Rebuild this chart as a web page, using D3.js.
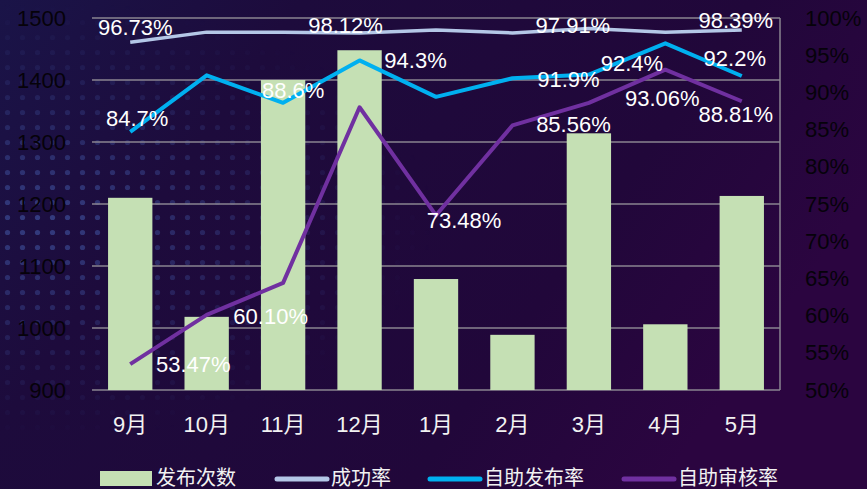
<!DOCTYPE html>
<html>
<head>
<meta charset="utf-8">
<script src="https://cdnjs.cloudflare.com/ajax/libs/d3/7.8.5/d3.min.js"></script>
<style>
  body { margin: 0; background: #1c0a3a; }
  svg text { font-family: "Liberation Sans", "Noto Sans CJK SC", sans-serif; }
</style>
</head>
<body>
<div id="chart"></div>
<script>
var months = ["9月", "10月", "11月", "12月", "1月", "2月", "3月", "4月", "5月"];
var releaseCount = [1210, 1018, 1400, 1448, 1079, 989, 1314, 1006, 1213];
var successRate = [96.73, 98.1, 98.1, 98.0, 98.4, 98.0, 98.6, 98.1, 98.39];
var selfReleaseRate = [84.7, 92.3, 88.6, 94.3, 89.4, 91.9, 92.4, 96.6, 92.2];
var selfAuditRate = [53.47, 60.10, 64.4, 88.0, 73.48, 85.56, 88.6, 93.06, 88.81];
var leftTicks = [900, 1000, 1100, 1200, 1300, 1400, 1500];
var rightTicks = [50, 55, 60, 65, 70, 75, 80, 85, 90, 95, 100];
var seriesNames = ["发布次数", "成功率", "自助发布率", "自助审核率"];
// data label texts, one per month (null = no label)
var successLabels = ["96.73%", null, null, "98.12%", null, null, "97.91%", null, "98.39%"];
var selfReleaseLabels = ["84.7%", null, "88.6%", "94.3%", null, "91.9%", "92.4%", null, "92.2%"];
var selfAuditLabels = ["53.47%", "60.10%", null, null, "73.48%", "85.56%", null, "93.06%", "88.81%"];

var W = 867, H = 489;
var plot = {left: 92, right: 780, top: 18, bottom: 390};

var svg = d3.select("#chart").append("svg")
    .attr("width", W)
    .attr("height", H);

// background
var defs = svg.append("defs");
var bg = defs.append("linearGradient").attr("id", "bg")
    .attr("x1", 0).attr("y1", 0).attr("x2", 1).attr("y2", 0.4);
bg.append("stop").attr("offset", 0).attr("stop-color", "#1a1448");
bg.append("stop").attr("offset", 0.3).attr("stop-color", "#1d0b3c");
bg.append("stop").attr("offset", 0.75).attr("stop-color", "#21073a");
bg.append("stop").attr("offset", 1).attr("stop-color", "#2b0540");

var dots = defs.append("pattern").attr("id", "dots")
    .attr("width", 15).attr("height", 15)
    .attr("patternUnits", "userSpaceOnUse");
dots.append("circle").attr("cx", 7.5).attr("cy", 7.5).attr("r", 2.6).attr("fill", "#3c4c96");

var fade = defs.append("radialGradient").attr("id", "fade")
    .attr("cx", 0.05).attr("cy", 0.45).attr("r", 0.45);
fade.append("stop").attr("offset", 0).attr("stop-color", "#fff").attr("stop-opacity", 0.75);
fade.append("stop").attr("offset", 0.6).attr("stop-color", "#fff").attr("stop-opacity", 0.25);
fade.append("stop").attr("offset", 1).attr("stop-color", "#fff").attr("stop-opacity", 0);
defs.append("mask").attr("id", "dotMask")
  .append("rect").attr("width", W).attr("height", H).attr("fill", "url(#fade)");

svg.append("rect").attr("width", W).attr("height", H).attr("fill", "url(#bg)");
svg.append("rect").attr("width", W).attr("height", H)
    .attr("fill", "url(#dots)")
    .attr("mask", "url(#dotMask)");

// scales
var x = d3.scaleBand()
    .domain(months)
    .range([plot.left, plot.right])
    .paddingInner(0.42)
    .paddingOuter(0.21);

var yLeft = d3.scaleLinear()
    .domain([900, 1500])
    .range([plot.bottom, plot.top]);

var yRight = d3.scaleLinear()
    .domain([50, 100])
    .range([plot.bottom, plot.top]);

function cx(m) { return x(m) + x.bandwidth() / 2; }

// gridlines
svg.append("g").selectAll("line")
    .data(leftTicks)
  .enter().append("line")
    .attr("x1", plot.left)
    .attr("x2", plot.right)
    .attr("y1", function(d) { return yLeft(d); })
    .attr("y2", function(d) { return yLeft(d); })
    .attr("stroke", "#8a8590")
    .attr("stroke-width", 1.5);

svg.append("line")
    .attr("x1", plot.right).attr("x2", plot.right)
    .attr("y1", plot.top).attr("y2", plot.bottom)
    .attr("stroke", "#8a8590")
    .attr("stroke-width", 1.5);

// axes
var leftAxis = svg.append("g")
    .attr("transform", "translate(" + (plot.left - 26) + ",0)")
    .call(d3.axisLeft(yLeft).tickValues(leftTicks).tickSize(0).tickPadding(0)
      .tickFormat(d3.format("d")));
var rightAxis = svg.append("g")
    .attr("transform", "translate(" + (plot.right + 25) + ",0)")
    .call(d3.axisRight(yRight).tickValues(rightTicks).tickSize(0).tickPadding(0)
      .tickFormat(function(d) { return d + "%"; }));
var bottomAxis = svg.append("g")
    .attr("transform", "translate(0," + plot.bottom + ")")
    .call(d3.axisBottom(x).tickSize(0).tickPadding(38));

[leftAxis, rightAxis, bottomAxis].forEach(function(a) {
  a.select(".domain").remove();
  a.selectAll("text")
      .attr("font-family", null)
      .style("font-size", "22px")
      .attr("fill", "#06020a");
});
bottomAxis.selectAll("text").attr("fill", "#f2f2f2").attr("dy", "0.2em");

// bars
svg.append("g").selectAll("rect")
    .data(releaseCount)
  .enter().append("rect")
    .attr("x", function(d, i) { return x(months[i]); })
    .attr("y", function(d) { return yLeft(d); })
    .attr("width", x.bandwidth())
    .attr("height", function(d) { return plot.bottom - yLeft(d); })
    .attr("fill", "#c5e0b4");

// lines
var series = [
  {values: successRate, color: "#b4c7e7", width: 3.5, labels: successLabels,
   offsets: [[5, -7], null, null, [-14, 0], null, null, [-16, 5], null, [-6, -2]]},
  {values: selfReleaseRate, color: "#00b0f0", width: 4, labels: selfReleaseLabels,
   offsets: [[7, -6], null, [10, -5], [56, 8], null, [56, 9], [43, -4], null, [-7, -10]]},
  {values: selfAuditRate, color: "#7030a0", width: 4, labels: selfAuditLabels,
   offsets: [[63, 8], [64, 9], null, null, [28, 13], [61, 7], null, [-3, 36], [-6, 21]]}
];

var line = d3.line()
    .x(function(d, i) { return cx(months[i]); })
    .y(function(d) { return yRight(d); });

series.forEach(function(s) {
  svg.append("path")
      .datum(s.values)
      .attr("d", line)
      .attr("fill", "none")
      .attr("stroke", s.color)
      .attr("stroke-width", s.width)
      .attr("stroke-linejoin", "round");
});

// data labels
series.forEach(function(s) {
  svg.append("g").selectAll("text")
      .data(s.labels.map(function(t, i) { return {t: t, i: i}; }).filter(function(d) { return d.t; }))
    .enter().append("text")
      .attr("x", function(d) { return cx(months[d.i]) + s.offsets[d.i][0]; })
      .attr("y", function(d) { return yRight(s.values[d.i]) + s.offsets[d.i][1]; })
      .attr("text-anchor", "middle")
      .style("font-size", "22px")
      .attr("fill", "#ffffff")
      .text(function(d) { return d.t; });
});

// legend
var legendX = [100, 275, 428, 622];
var legendColors = ["#c5e0b4", "#b4c7e7", "#00b0f0", "#7030a0"];
var legend = svg.append("g").selectAll("g")
    .data(seriesNames)
  .enter().append("g")
    .attr("transform", function(d, i) { return "translate(" + legendX[i] + ",478)"; });

legend.each(function(d, i) {
  var g = d3.select(this);
  if (i === 0) {
    g.append("rect").attr("x", 0).attr("y", -7).attr("width", 52).attr("height", 15)
        .attr("fill", legendColors[i]);
  } else {
    g.append("line").attr("x1", 2).attr("x2", 52).attr("y1", 1).attr("y2", 1)
        .attr("stroke", legendColors[i]).attr("stroke-width", 5)
        .attr("stroke-linecap", "round");
  }
  g.append("text")
      .attr("x", 56)
      .attr("y", 7)
      .style("font-size", "20px")
      .attr("fill", "#f2f2f2")
      .text(d);
});
</script>
</body>
</html>
